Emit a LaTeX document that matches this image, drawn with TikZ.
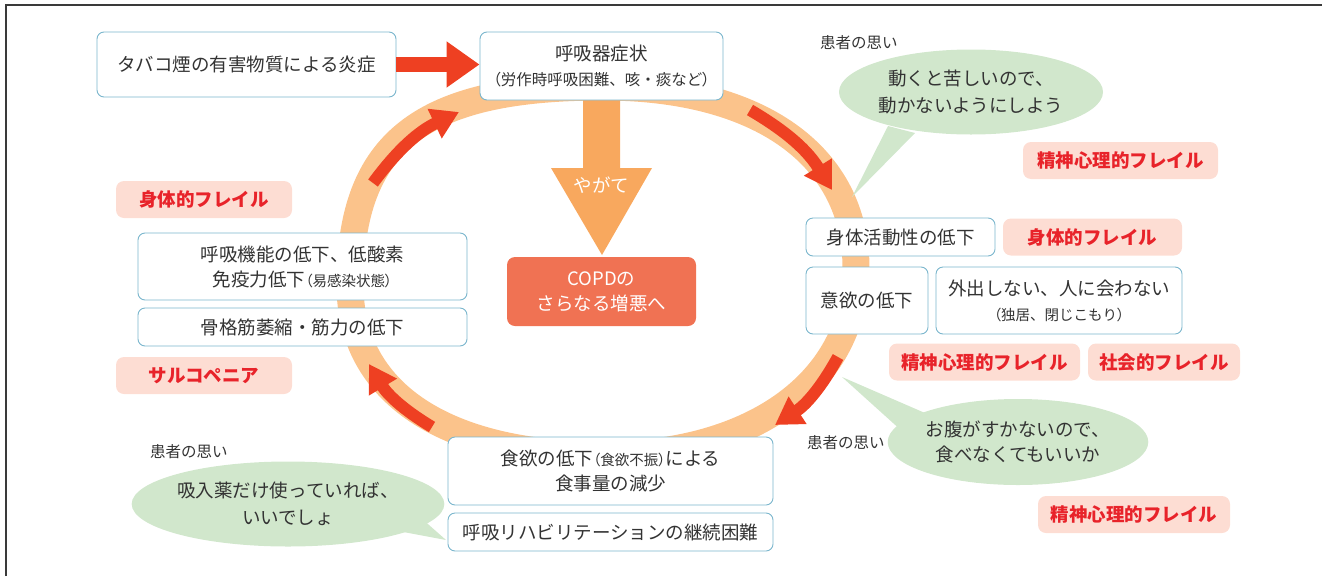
\documentclass[tikz,border=0pt]{standalone}
\usepackage{fontspec}
\setmainfont{Noto Sans CJK JP}
\newfontfamily\jppalt[RawFeature=+palt]{Noto Sans CJK JP}
\usetikzlibrary{arrows.meta,shapes.geometric}
\definecolor{txt}{HTML}{333333}
\definecolor{boxb}{HTML}{7AB6CD}
\definecolor{ringc}{HTML}{FBC38B}
\definecolor{redar}{HTML}{EE4022}
\definecolor{orar}{HTML}{F8A85E}
\definecolor{copdc}{HTML}{F07253}
\definecolor{pinkf}{HTML}{FDDDD3}
\definecolor{redt}{HTML}{E8232A}
\definecolor{greenb}{HTML}{D1E7CC}
\definecolor{framec}{HTML}{3A3A3A}
\newcommand{\jpmain}{\fontsize{18.5}{25}\selectfont}
\newcommand{\jpsmall}{\fontsize{14.5}{25}\selectfont}
\newcommand{\jpmid}{\fontsize{15.5}{25}\selectfont}
\newcommand{\jplabel}{\fontsize{15.5}{18}\selectfont}
\newcommand{\plp}{{\jppalt （}}
\newcommand{\prp}{{\jppalt ）}}
\tikzset{
  box/.style={draw=boxb, line width=0.9pt, fill=white, rounded corners=7pt, inner sep=0pt, align=center, text=txt, font=\jpmain},
  frail/.style={fill=pinkf, rounded corners=8pt, inner sep=0pt, text=redt, font=\jpmain\bfseries, minimum height=37pt},
  thought/.style={text=txt, font=\jplabel, anchor=west, inner sep=0pt},
  bubble/.style={ellipse, fill=greenb, inner sep=0pt, align=center, text=txt, font=\jpmain},
  ringarrow/.style={draw=redar, line width=12pt, -{Triangle[length=27pt,width=31pt]}},
}
\begin{document}
\begin{tikzpicture}[x=1pt,y=-1pt]
\useasboundingbox (0,0) rectangle (1322,576);
% frame
\draw[framec, line width=1.5pt] (6,576) -- (6,5) -- (1322,5);
% ring
\draw[ringc, line width=27pt] (603,87) .. controls (760,87) and (856,156) .. (856,268)
  .. controls (856,380) and (755,455) .. (603,455)
  .. controls (444,455) and (350,392) .. (350,285)
  .. controls (350,142) and (421,87) .. (603,87) -- cycle;
% ring arrows
\coordinate (a1s) at (373,183); \coordinate (a1e) at (459,112);
\coordinate (a2s) at (750,110); \coordinate (a2e) at (832,190);
\coordinate (a3s) at (838,357); \coordinate (a3e) at (775,425);
\coordinate (a4s) at (432,427); \coordinate (a4e) at (369,364);
\draw[ringarrow] (a1s) to[bend left=14] (a1e);
\draw[ringarrow] (a2s) to[bend left=14] (a2e);
\draw[ringarrow] (a3s) to[bend left=14] (a3e);
\draw[ringarrow] (a4s) to[bend left=14] (a4e);
% orange arrow
\fill[orar] (583,100) -- (620,100) -- (620,168) -- (652,168) -- (602,255) -- (551,168) -- (583,168) -- cycle;
\node[text=white, font=\jpmain, inner sep=0pt] (yagate) at (601.5,185) {やがて};
% bubbles
\fill[greenb] (888,126) -- (915,133) -- (852,197) -- cycle;
\node[bubble, minimum width=264pt, minimum height=85pt, font=\fontsize{18.5}{27}\selectfont] (b1) at (971,92) {動くと苦しいので、\\動かないようにしよう};
\fill[greenb] (925,413) -- (903,432) -- (842,377) -- cycle;
\node[bubble, minimum width=240pt, minimum height=86pt] (b2) at (1018,442) {お腹がすかないので、\\食べなくてもいいか};
\fill[greenb] (420,517) -- (398,531) -- (446,540) -- cycle;
\node[bubble, minimum width=284pt, minimum height=85pt, font=\fontsize{18.5}{27}\selectfont] (b3) at (288,504) {吸入薬だけ使っていれば、\\いいでしょ};
% thought labels
\node[thought] (t1) at (820,43) {患者の思い};
\node[thought] (t2) at (807,443) {患者の思い};
\node[thought] (t3) at (150,452) {患者の思い};
% boxes
\node[box, minimum width=299pt, minimum height=65pt] (tabako) at (246.5,64.5) {タバコ煙の有害物質による炎症};
\node[box, minimum width=243pt, minimum height=68pt] (kokyu) at (601.5,66) {呼吸器症状\\{\jpmid\plp 労作時呼吸困難、咳・痰など\prp}};
\node[box, minimum width=329pt, minimum height=67pt] (kino) at (302.5,266.5) {呼吸機能の低下、低酸素\\免疫力低下{\jpsmall\plp 易感染状態\prp}};
\node[box, minimum width=329pt, minimum height=38pt] (kokkaku) at (302.5,327) {骨格筋萎縮・筋力の低下};
\node[box, minimum width=189pt, minimum height=38pt] (katsudo) at (900.5,237) {身体活動性の低下};
\node[box, minimum width=122pt, minimum height=67pt] (iyoku) at (867,300.5) {意欲の低下};
\node[box, minimum width=246pt, minimum height=67pt] (gaishutsu) at (1059,300.5) {外出しない、人に会わない\\{\jpsmall\plp 独居、閉じこもり\prp}};
\node[box, minimum width=325pt, minimum height=68pt] (shokuyoku) at (610.5,471) {食欲の低下{\jpsmall\plp 食欲不振\prp}による\\食事量の減少};
\node[box, minimum width=325pt, minimum height=38pt] (reha) at (610.5,532) {呼吸リハビリテーションの継続困難};
\node[fill=copdc, rounded corners=8pt, inner sep=0pt, minimum width=189pt, minimum height=69pt, align=center, text=white, font=\jpmain] (copd) at (601.5,291.5) {COPDの\\さらなる増悪へ};
% frailty labels
\node[frail, minimum width=176pt] (f1) at (204,199.5) {身体的フレイル};
\node[frail, minimum width=176pt] (f2) at (204,375.5) {サルコペニア};
\node[frail, minimum width=179pt] (f3) at (1092.5,237) {身体的フレイル};
\node[frail, minimum width=191pt] (f4) at (984.5,362) {精神心理的フレイル};
\node[frail, minimum width=152pt] (f5) at (1164,362) {社会的フレイル};
\node[frail, minimum width=195pt] (f6) at (1120.5,160.5) {精神心理的フレイル};
\node[frail, minimum width=192pt] (f7) at (1134,514.5) {精神心理的フレイル};
% main red arrow
\draw[redar, line width=15pt, -{Triangle[length=33pt,width=44pt]}] (tabako.east) -- (tabako.east -| kokyu.west);
\end{tikzpicture}
\end{document}
